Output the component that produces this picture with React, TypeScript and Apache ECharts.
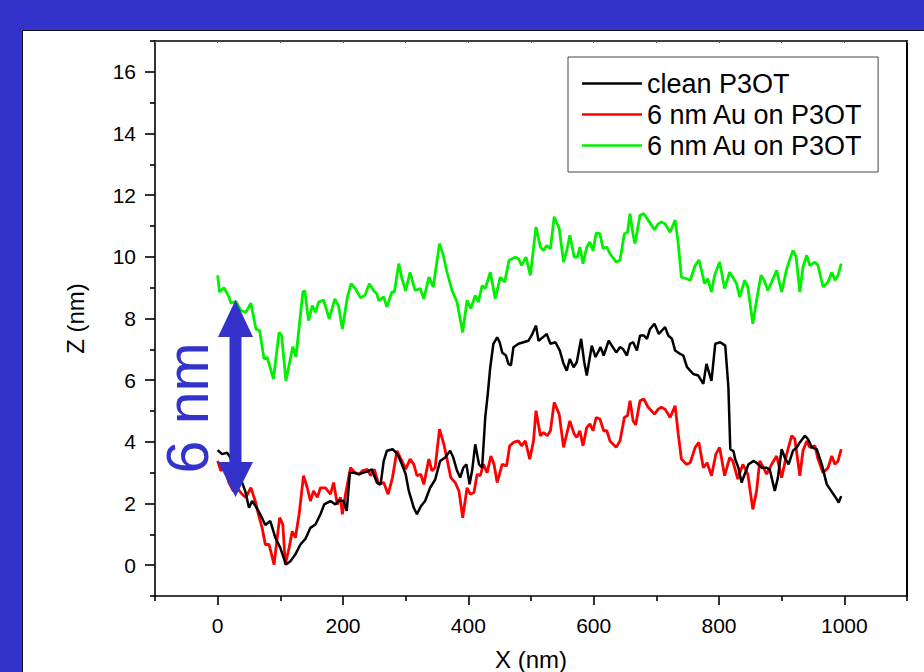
import React, { useEffect, useRef } from "react";
import * as echarts from "echarts";

const FONT = "'Liberation Sans', Arial, Helvetica, sans-serif";
const BLUE = "#3333cc";

const seriesNames = ["clean P3OT", "6 nm Au on P3OT", "6 nm Au on P3OT "];
const seriesColors = ["#000000", "#ff0000", "#00f000"];

const xMajorTicks = [0, 200, 400, 600, 800, 1000];
const xMinorTicks = [-100, 100, 300, 500, 700, 900, 1100];
const xTopTicks = [-100, 0, 100, 200, 300, 400, 500, 600, 700, 800, 900, 1000, 1100];
const yMajorTicks = [0, 2, 4, 6, 8, 10, 12, 14, 16];
const yMinorTicks = [-1, 1, 3, 5, 7, 9, 11, 13, 15, 17];

const cleanP3OT = [
  [0, 3.73], [7, 3.6], [15, 3.65], [20, 3.5], [29, 2.73], [37, 2.79], [44, 2.4], [50, 1.86], [55, 2.08],
  [61, 1.9], [68, 1.65], [76, 1.3], [84, 1.43], [92, 0.89], [100, 0.56], [109, 0.02], [116, 0.13], [124, 0.35],
  [132, 0.67], [140, 0.85], [148, 1.21], [156, 1.32], [164, 1.65], [170, 1.97], [180, 2.08], [188, 1.97],
  [193, 2.1], [201, 2.08], [206, 1.76], [211, 3.0], [217, 3.0], [225, 2.95], [233, 3.0], [241, 3.05],
  [246, 3.11], [254, 2.68], [260, 2.62], [265, 3.38], [270, 3.71], [279, 3.76], [287, 3.6], [294, 3.27],
  [300, 2.95], [305, 2.41], [313, 1.86], [318, 1.65], [324, 1.9], [331, 2.08], [339, 2.51], [347, 2.77],
  [355, 3.38], [363, 3.49], [371, 3.71], [376, 3.49], [382, 3.06], [387, 2.84], [392, 3.16], [397, 3.27],
  [402, 2.62], [406, 3.06], [411, 3.92], [417, 3.27], [422, 3.16], [427, 4.79], [431, 5.55], [435, 6.42],
  [440, 7.18], [446, 7.39], [450, 7.23], [454, 6.9], [460, 6.8], [464, 6.53], [468, 6.48], [472, 7.07],
  [480, 7.18], [488, 7.23], [496, 7.28], [501, 7.45], [508, 7.77], [512, 7.28], [519, 7.39], [525, 7.5],
  [531, 7.18], [539, 7.23], [546, 6.96], [552, 6.53], [557, 6.31], [562, 6.69], [568, 6.42], [573, 6.58],
  [580, 7.34], [585, 6.58], [589, 6.15], [597, 7.12], [603, 6.75], [611, 7.07], [616, 6.8], [624, 7.28],
  [629, 7.12], [636, 6.9], [642, 7.07], [647, 7.01], [653, 6.8], [658, 7.18], [663, 7.23], [669, 6.96],
  [674, 7.45], [680, 7.45], [685, 7.34], [690, 7.66], [697, 7.83], [704, 7.5], [709, 7.61], [714, 7.72],
  [719, 7.45], [725, 7.34], [730, 6.96], [738, 6.85], [743, 6.8], [749, 6.42], [754, 6.31], [759, 6.2],
  [767, 6.15], [775, 5.88], [780, 6.53], [788, 5.98], [794, 7.18], [802, 7.23], [810, 7.12], [815, 5.77],
  [818, 3.76], [823, 3.7], [826, 3.43], [831, 3.16], [836, 2.68], [841, 2.95], [847, 3.27], [855, 3.38],
  [860, 3.32], [868, 3.16], [876, 3.16], [881, 3.1], [889, 2.41], [894, 2.84], [900, 3.76], [905, 3.49],
  [911, 3.27], [918, 3.71], [924, 3.82], [929, 3.98], [937, 4.2], [942, 4.09], [948, 3.82], [956, 3.76],
  [964, 3.27], [972, 2.62], [979, 2.41], [988, 2.14], [991, 2.03], [995, 2.24],
];

const auOnP3OT_red = [
  [0, 3.38], [5, 3.06], [10, 3.2], [18, 2.68], [25, 2.4], [31, 2.51], [39, 2.3], [45, 2.2], [53, 2.51],
  [60, 2.08], [65, 1.65], [71, 1.21], [76, 0.67], [82, 0.67], [90, 0.02], [95, 0.89], [99, 1.54], [104, 1.32],
  [108, 0.02], [114, 0.56], [119, 1.1], [124, 0.89], [130, 1.65], [137, 2.9], [143, 2.51], [148, 2.08],
  [153, 2.41], [159, 2.2], [164, 2.51], [172, 2.51], [180, 2.3], [185, 2.68], [191, 1.97], [196, 2.2],
  [199, 1.65], [204, 2.3], [212, 3.16], [219, 3.0], [226, 2.95], [231, 3.06], [239, 3.11], [244, 2.9],
  [250, 3.11], [257, 2.62], [265, 2.68], [272, 2.3], [279, 2.84], [286, 3.71], [294, 3.38], [300, 3.11],
  [307, 3.44], [313, 3.27], [318, 2.9], [324, 2.95], [329, 2.62], [337, 3.44], [342, 3.06], [347, 3.16],
  [354, 4.41], [361, 3.92], [366, 3.44], [372, 2.84], [379, 2.68], [385, 2.41], [391, 1.54], [398, 2.51],
  [403, 2.3], [409, 2.36], [414, 2.95], [419, 2.9], [424, 3.27], [430, 3.0], [436, 3.54], [441, 3.27],
  [446, 2.68], [454, 3.27], [461, 3.22], [466, 3.87], [472, 3.98], [480, 4.03], [485, 3.87], [491, 4.03],
  [498, 3.44], [504, 4.03], [508, 5.01], [515, 4.2], [520, 4.3], [526, 4.2], [531, 4.36], [537, 5.28],
  [545, 4.9], [552, 3.82], [557, 4.25], [562, 4.68], [569, 4.25], [573, 4.14], [578, 4.36], [583, 3.87],
  [589, 4.47], [594, 4.58], [599, 4.36], [604, 4.79], [610, 4.74], [616, 4.36], [621, 4.36], [626, 4.03],
  [636, 3.82], [642, 4.03], [649, 4.79], [654, 4.85], [658, 5.33], [663, 4.68], [667, 4.55], [674, 5.33],
  [680, 5.39], [687, 5.12], [697, 4.9], [703, 5.06], [708, 5.12], [714, 5.06], [722, 4.79], [730, 5.17],
  [735, 4.25], [740, 3.44], [748, 3.27], [754, 3.32], [762, 3.82], [768, 3.98], [775, 3.16], [781, 3.32],
  [788, 2.9], [795, 3.6], [801, 3.82], [809, 2.9], [817, 3.49], [822, 3.38], [830, 2.79], [838, 3.27],
  [846, 2.95], [854, 1.81], [860, 2.41], [865, 3.38], [871, 3.16], [876, 2.95], [884, 3.27], [892, 3.54],
  [900, 2.84], [908, 3.6], [916, 4.2], [921, 4.09], [929, 2.9], [934, 3.71], [940, 4.03], [945, 3.82],
  [953, 3.87], [958, 3.44], [966, 3.0], [974, 3.16], [980, 3.54], [985, 3.27], [990, 3.38], [995, 3.76],
];

const auOnP3OT_green = [
  [0, 9.4], [3, 8.86], [10, 9.0], [18, 8.7], [21, 8.5], [29, 8.55], [37, 8.26], [45, 8.2], [53, 8.5],
  [61, 7.67], [67, 7.6], [74, 6.69], [79, 6.74], [89, 6.04], [98, 7.55], [102, 7.45], [109, 5.98],
  [120, 7.09], [125, 6.76], [136, 8.86], [139, 8.9], [145, 7.93], [151, 8.42], [156, 8.2], [161, 8.53],
  [169, 8.6], [178, 7.99], [187, 8.64], [193, 8.4], [199, 7.66], [207, 8.69], [213, 9.13], [220, 8.96],
  [228, 8.67], [235, 8.75], [242, 9.13], [249, 8.9], [254, 8.8], [257, 8.58], [265, 8.7], [270, 8.37],
  [278, 8.86], [282, 8.86], [289, 9.78], [294, 9.3], [300, 8.9], [307, 9.5], [315, 8.91], [323, 8.97],
  [329, 8.64], [337, 9.34], [344, 9.02], [354, 10.43], [360, 10.05], [366, 9.5], [374, 8.91], [382, 8.53],
  [391, 7.55], [398, 8.59], [404, 8.32], [411, 8.75], [416, 8.53], [422, 9.07], [427, 8.97], [435, 9.5],
  [443, 8.64], [451, 9.34], [458, 9.18], [465, 9.89], [475, 9.99], [480, 9.94], [485, 9.72], [492, 9.99],
  [499, 9.4], [508, 10.97], [515, 10.32], [520, 10.2], [525, 10.37], [531, 10.26], [537, 11.3], [545, 10.92],
  [552, 9.83], [557, 10.2], [562, 10.7], [569, 9.99], [574, 9.99], [578, 10.32], [583, 9.78], [589, 10.32],
  [594, 10.48], [599, 10.2], [604, 10.77], [610, 10.75], [615, 10.27], [621, 10.32], [626, 10.1], [636, 9.83],
  [642, 9.89], [649, 10.75], [654, 10.8], [658, 11.4], [663, 10.7], [666, 10.43], [674, 11.35], [680, 11.4],
  [687, 11.19], [697, 10.88], [703, 11.07], [708, 11.13], [714, 11.07], [722, 10.8], [730, 11.19],
  [735, 10.43], [740, 9.34], [748, 9.29], [754, 9.24], [762, 9.72], [768, 9.9], [777, 9.13], [782, 9.29],
  [788, 8.86], [793, 9.4], [801, 9.83], [809, 8.97], [817, 9.5], [822, 9.34], [828, 9.13], [833, 8.69],
  [841, 9.24], [846, 9.02], [854, 7.83], [860, 8.59], [867, 9.4], [872, 9.24], [878, 8.91], [884, 9.18],
  [892, 9.56], [900, 8.86], [908, 9.61], [918, 10.21], [923, 10.0], [929, 8.86], [934, 9.67], [940, 10.05],
  [945, 9.72], [953, 9.83], [958, 9.72], [966, 9.02], [974, 9.18], [980, 9.5], [985, 9.24], [990, 9.4],
  [995, 9.78],
];

const seriesData = [cleanP3OT, auOnP3OT_red, auOnP3OT_green];
const lineWidths = [2.5, 2.8, 2.8];

export default function App() {
  const ref = useRef<HTMLDivElement>(null);

  useEffect(() => {
    if (!ref.current) return;
    const chart = echarts.init(ref.current, null, { renderer: "svg" });
    const axisColor = "#000";
    const hiddenAxisBase = {
      type: "value" as const,
      splitLine: { show: false },
      axisLabel: { show: false },
    };
    chart.setOption({
      animation: false,
      backgroundColor: "transparent",
      textStyle: { fontFamily: FONT },
      grid: {
        left: 155,
        top: 41,
        width: 752,
        height: 555,
        containLabel: false,
        outerBoundsMode: "none",
      },
      legend: {
        show: true,
        orient: "vertical",
        left: 568,
        top: 57,
        data: seriesNames.map((n) => ({ name: n, icon: "rect" })),
        selectedMode: false,
        itemWidth: 60,
        itemHeight: 2.5,
        itemGap: 4,
        itemTextGap: 8,
        padding: [13, 15, 13, 14],
        borderColor: "#444",
        borderWidth: 1,
        backgroundColor: "#fff",
        formatter: (n: string) => n.trim(),
        textStyle: { fontSize: 27, color: "#000", fontFamily: FONT, lineHeight: 26 },
      },
      xAxis: [
        {
          type: "value",
          min: -100,
          max: 1100,
          position: "bottom",
          name: "X (nm)",
          nameLocation: "middle",
          nameGap: 51,
          nameTextStyle: { fontSize: 24, color: "#000", fontFamily: FONT, lineHeight: 24 },
          axisLine: { show: true, onZero: false, lineStyle: { color: axisColor, width: 1.6 } },
          axisTick: { show: true, customValues: xMajorTicks, length: 9, lineStyle: { color: axisColor, width: 1.6 } },
          axisLabel: {
            customValues: xMajorTicks,
            formatter: (v: number) => String(v),
            fontSize: 21,
            color: "#000",
            margin: 19,
            fontFamily: FONT,
          },
          splitLine: { show: false },
        },
        {
          ...hiddenAxisBase,
          min: -100,
          max: 1100,
          position: "bottom",
          axisLine: { show: false, onZero: false },
          axisTick: { show: true, customValues: xMinorTicks, length: 5, lineStyle: { color: axisColor, width: 1.6 } },
        },
        {
          ...hiddenAxisBase,
          min: -100,
          max: 1100,
          position: "top",
          axisLine: { show: true, onZero: false, lineStyle: { color: axisColor, width: 1.6 } },
          axisTick: { show: true, inside: true, customValues: xTopTicks, length: 2, lineStyle: { color: "#555", width: 1 } },
        },
      ],
      yAxis: [
        {
          type: "value",
          min: -1,
          max: 17,
          position: "left",
          name: "Z (nm)",
          nameLocation: "middle",
          nameGap: 68,
          nameTextStyle: { fontSize: 24, color: "#000", fontFamily: FONT },
          axisLine: { show: true, onZero: false, lineStyle: { color: axisColor, width: 1.6 } },
          axisTick: { show: true, customValues: yMajorTicks, length: 10, lineStyle: { color: axisColor, width: 1.6 } },
          axisLabel: {
            customValues: yMajorTicks,
            formatter: (v: number) => String(v),
            fontSize: 21,
            color: "#000",
            margin: 19,
            fontFamily: FONT,
          },
          splitLine: { show: false },
        },
        {
          ...hiddenAxisBase,
          min: -1,
          max: 17,
          position: "left",
          axisLine: { show: false, onZero: false },
          axisTick: { show: true, customValues: yMinorTicks, length: 5, lineStyle: { color: axisColor, width: 1.6 } },
        },
        {
          ...hiddenAxisBase,
          min: -1,
          max: 17,
          position: "right",
          axisLine: { show: true, onZero: false, lineStyle: { color: axisColor, width: 2 } },
          axisTick: { show: false },
        },
      ],
      series: seriesData.map((d, i) => ({
        type: "line",
        name: seriesNames[i],
        data: d,
        xAxisIndex: 0,
        yAxisIndex: 0,
        symbol: "none",
        showSymbol: false,
        lineStyle: { color: seriesColors[i], width: lineWidths[i] },
        itemStyle: { color: seriesColors[i] },
        z: 3 + (2 - i),
      })),
      graphic: [
        {
          type: "polygon",
          z: 100,
          shape: {
            points: [
              [235.5, 300], [253, 337], [241.5, 337], [241.5, 462], [253, 462],
              [235.5, 497], [218, 462], [229.5, 462], [229.5, 337], [218, 337],
            ],
          },
          style: { fill: BLUE },
        },
        {
          type: "text",
          z: 100,
          x: 188,
          y: 408,
          rotation: Math.PI / 2,
          style: {
            text: "6 nm",
            fill: BLUE,
            font: `59px ${FONT}`,
            align: "center",
            verticalAlign: "middle",
          },
        },
      ],
    });
    return () => chart.dispose();
  }, []);

  return (
    <div style={{ position: "fixed", left: 0, top: 0, width: 924, height: 672, background: BLUE, overflow: "hidden" }}>
      <div
        style={{
          position: "absolute",
          left: 22,
          top: 30,
          width: 940,
          height: 700,
          background: "#fff",
          border: "1px solid #111",
          boxSizing: "border-box",
        }}
      />
      <div ref={ref} style={{ position: "absolute", left: 0, top: 0, width: 924, height: 672 }} />
    </div>
  );
}
